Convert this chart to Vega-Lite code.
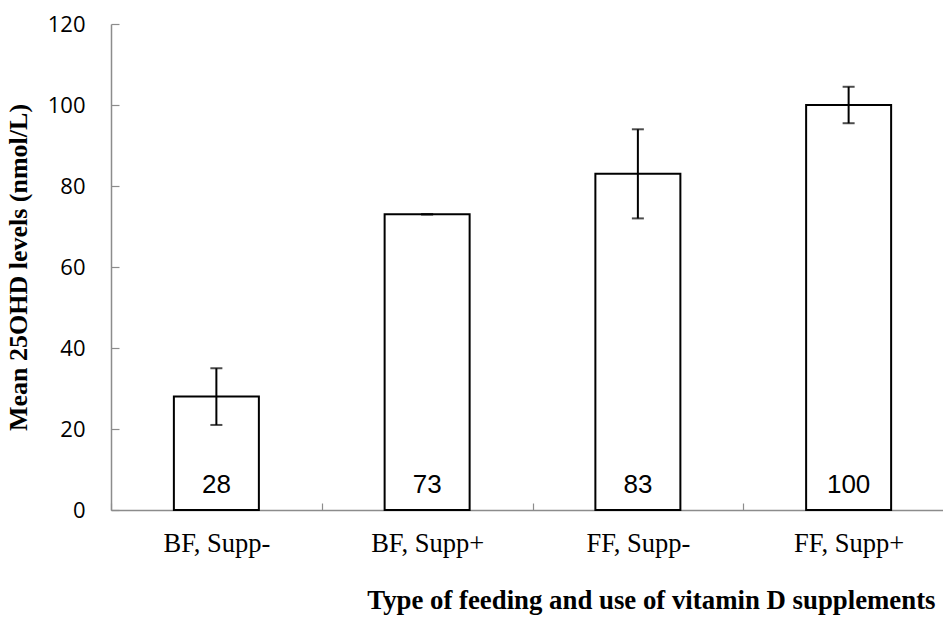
{
  "$schema": "https://vega.github.io/schema/vega-lite/v6.json",
  "width": 832,
  "height": 486,
  "autosize": {"type": "none"},
  "padding": {"left": 111, "top": 24, "right": 0, "bottom": 110},
  "background": "white",
  "config": {"view": {"stroke": null}},
  "data": {"values": [
    {"group": "BF, Supp-", "mean": 28, "lo": 21, "hi": 35},
    {"group": "BF, Supp+", "mean": 73, "lo": 73, "hi": 73},
    {"group": "FF, Supp-", "mean": 83, "lo": 72, "hi": 94},
    {"group": "FF, Supp+", "mean": 100, "lo": 95.5, "hi": 104.5}
  ]},
  "encoding": {
    "x": {
      "field": "group", "type": "nominal", "sort": null,
      "scale": {"paddingInner": 0, "paddingOuter": 0, "range": [0, 843]},
      "axis": {
        "title": "Type of feeding and use of vitamin D supplements",
        "titleFont": "Liberation Serif", "titleFontWeight": "bold", "titleFontSize": 26.8, "titleColor": "black",
        "titleAnchor": "end", "titleAlign": "right", "titleX": 824, "titleY": 98, "titleBaseline": "alphabetic",
        "labelAngle": 0, "labelFont": "Liberation Serif", "labelFontSize": 26.5, "labelColor": "black", "labelPadding": 27,
        "domainColor": "#8c8c8c", "domainWidth": 1.5,
        "tickBand": "extent", "tickSize": -7, "tickColor": "#8c8c8c", "tickWidth": 1.2
      }
    }
  },
  "layer": [
    {
      "mark": {"type": "bar", "fill": "white", "stroke": "black", "strokeWidth": 2, "width": 85},
      "encoding": {
        "y": {
          "field": "mean", "type": "quantitative",
          "scale": {"domain": [0, 120], "nice": false},
          "axis": {
            "title": "Mean 25OHD levels (nmol/L)",
            "titleFont": "Liberation Serif", "titleFontWeight": "bold", "titleFontSize": 26, "titleColor": "black",
            "titleX": -93, "titleY": 243, "titleAngle": -90, "titleAlign": "center", "titleBaseline": "middle",
            "values": [0, 20, 40, 60, 80, 100, 120], "grid": false,
            "labelFont": "Open Sans", "labelFontSize": 22, "labelColor": "black", "labelPadding": 34,
            "domainColor": "#8c8c8c", "domainWidth": 1.5,
            "tickSize": -8, "tickColor": "#8c8c8c", "tickWidth": 1.2
          }
        }
      }
    },
    {
      "mark": {"type": "rule", "color": "black", "strokeWidth": 2},
      "encoding": {"y": {"field": "lo", "type": "quantitative"}, "y2": {"field": "hi"}}
    },
    {
      "mark": {"type": "tick", "color": "black", "thickness": 2, "size": 12},
      "encoding": {"y": {"field": "lo", "type": "quantitative"}}
    },
    {
      "mark": {"type": "tick", "color": "black", "thickness": 2, "size": 12},
      "encoding": {"y": {"field": "hi", "type": "quantitative"}}
    },
    {
      "mark": {"type": "text", "font": "Liberation Sans", "fontSize": 26, "color": "black", "baseline": "middle", "dy": -25},
      "encoding": {"y": {"datum": 0}, "text": {"field": "mean", "type": "quantitative"}}
    }
  ]
}
